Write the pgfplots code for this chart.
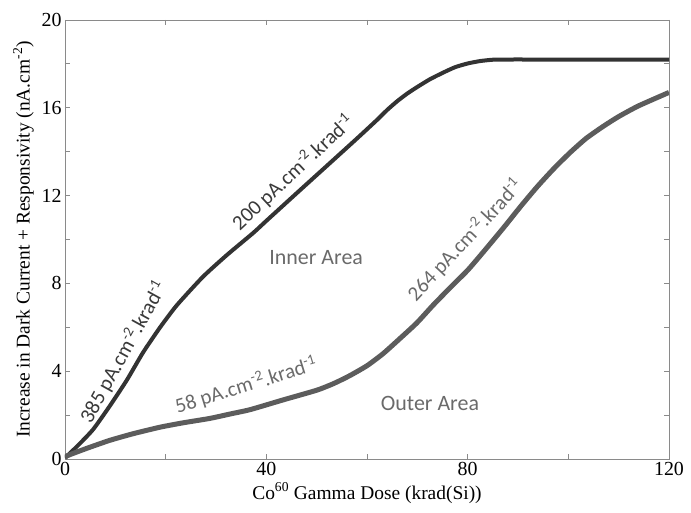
\documentclass[border=0pt]{standalone}
\usepackage{fontspec}
\setmainfont{Liberation Serif}
\newfontfamily\calib{Carlito}
\usepackage{pgfplots}
\pgfplotsset{compat=1.18}
\definecolor{innerc}{HTML}{333333}
\definecolor{outerc}{HTML}{5C5C5C}
\definecolor{axisc}{HTML}{8A8A8A}
\definecolor{lab1}{HTML}{3A3A3A}
\definecolor{lab2}{HTML}{6A6A6A}
\begin{document}
\begin{tikzpicture}
\begin{axis}[name=ax,
  scale only axis, width=604bp, height=439bp,
  xmin=0, xmax=120, ymin=0, ymax=20,
  xtick={0,40,80,120}, minor xtick={20,60,100},
  ytick={0,4,...,20}, minor ytick={2,6,10,14,18},
  tick align=inside, major tick length=5bp, minor tick length=5bp,
  axis line style={draw=axisc, line width=0.9bp},
  every tick/.style={draw=axisc, line width=0.9bp},
  /pgf/number format/assume math mode=true,
  tick label style={font=\fontsize{20}{20}\selectfont},
  label style={font=\fontsize{19.5}{22}\selectfont},
  xlabel={Co\textsuperscript{60} Gamma Dose (krad(Si))},
  ylabel={Increase in Dark Current + Responsivity (nA.cm\textsuperscript{-2})},
  xlabel style={yshift=0bp},
  ylabel style={yshift=1bp},
  clip=true,
]
\addplot[innerc, line width=4bp, smooth, tension=0.35] coordinates {
(0,0.05) (2.5,0.6) (5.6,1.35) (9,2.45) (12.3,3.6) (15.5,4.85) (18.9,6.0) (22.2,7.0)
(27.4,8.3) (32.2,9.3) (37.4,10.3) (40,10.85) (46.7,12.25) (53.2,13.6) (58,14.6) (62,15.45)
(64,15.9) (66,16.3) (68,16.65) (70,16.95) (72.5,17.3) (75.1,17.6) (77.5,17.85) (80,18.02) (82.5,18.13) (85,18.19) (88,18.2) (95,18.2) (105,18.2) (120,18.2)
};
\addplot[outerc, line width=5bp, smooth, tension=0.35] coordinates {
(0,0.1) (1,0.2) (4.5,0.5) (8.9,0.85) (13.5,1.15) (18.9,1.45) (23.5,1.65) (28.8,1.85) (32.8,2.05)
(36.8,2.25) (43.3,2.69) (50.1,3.14) (53.5,3.45) (56.6,3.8) (60,4.25) (63.2,4.8) (66.6,5.5)
(69.9,6.2) (73.1,7.0) (76.5,7.8) (80,8.6) (83,9.4) (87,10.5) (90.5,11.5) (93.8,12.4)
(97,13.2) (100.3,13.95) (103.5,14.6) (106.9,15.15) (110,15.6) (113.6,16.05) (117,16.4) (120,16.7)
};
\node[font=\calib\fontsize{21}{21}\selectfont, text=lab1, rotate=61] at (axis cs:11.6,4.87) {385 pA.cm\textsuperscript{-2}.krad\textsuperscript{-1}};
\node[font=\calib\fontsize{21}{21}\selectfont, text=lab1, rotate=43] at (axis cs:45.3,13.07) {200 pA.cm\textsuperscript{-2}.krad\textsuperscript{-1}};
\node[font=\calib\fontsize{21}{21}\selectfont, text=lab2, rotate=17] at (axis cs:36.0,3.37) {58 pA.cm\textsuperscript{-2}.krad\textsuperscript{-1}};
\node[font=\calib\fontsize{21}{21}\selectfont, text=lab2, rotate=47] at (axis cs:79.5,9.98) {264 pA.cm\textsuperscript{-2}.krad\textsuperscript{-1}};
\node[font=\calib\fontsize{22}{22}\selectfont, text=lab2] at (axis cs:49.9,9.2) {Inner Area};
\node[font=\calib\fontsize{22}{22}\selectfont, text=lab2] at (axis cs:72.5,2.55) {Outer Area};
\end{axis}
\pgfresetboundingbox
\path ([shift={(-65bp,-54bp)}]ax.south west) rectangle ([shift={(22bp,20bp)}]ax.north east);
\end{tikzpicture}
\end{document}
